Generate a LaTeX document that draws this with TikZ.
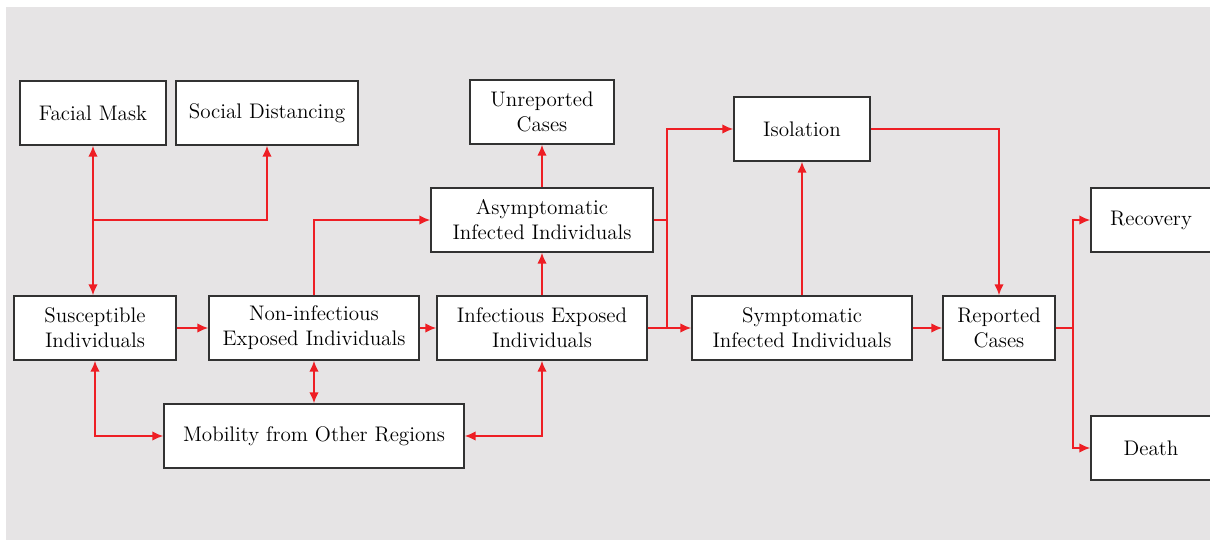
\documentclass[tikz,border=0pt]{standalone}
\usetikzlibrary{arrows.meta}
\definecolor{linkred}{RGB}{238,30,36}
\definecolor{panelgray}{RGB}{230,228,229}
\definecolor{boxline}{RGB}{50,50,50}
\begin{document}
\begin{tikzpicture}[x=0.02cm, y=-0.02cm,
		box/.style={draw=boxline, line width=0.7pt, fill=white, align=center, minimum height=1.28cm, inner sep=2pt, font=\fontsize{12}{14.2}\selectfont},
		line/.style={draw=linkred, line width=1.1pt},
		link/.style={line, -{Latex[length=2.2mm,width=1.9mm]}},
		both/.style={line, {Latex[length=2.2mm,width=1.9mm]}-{Latex[length=2.2mm,width=1.9mm]}}]
		\useasboundingbox (0,0) rectangle (1210,540);
		\fill[panelgray] (6,7) rectangle (1210,540);
		\node[box, minimum width=2.92cm] (Facial mask) at (93,113) {Facial Mask};
		\node[box, minimum width=3.64cm] (Social distancing) at (267,113) {Social Distancing};
		\node[box, minimum width=2.88cm] (Unreported) at (542,112) {Unreported\\Cases};
		\node[box, minimum width=2.72cm] (Isolation) at (802,129) {Isolation};
		\node[box, minimum width=4.44cm] (Asymptomatic) at (542,220) {Asymptomatic\\Infected Individuals};
		\node[box, minimum width=2.40cm] (Recovery) at (1151,220) {Recovery};
		\node[box, minimum width=3.24cm] (Susceptible) at (95,328) {Susceptible\\Individuals};
		\node[box, minimum width=4.20cm] (Non-infectious) at (314,328) {Non-infectious\\Exposed Individuals};
		\node[box, minimum width=4.20cm] (Infectious) at (542,328) {Infectious Exposed\\Individuals};
		\node[box, minimum width=4.40cm] (Symptomatic) at (802,328) {Symptomatic\\Infected Individuals};
		\node[box, minimum width=2.24cm] (Reported) at (999,328) {Reported\\Cases};
		\node[box, minimum width=6.00cm] (Mobility) at (314,436) {Mobility from Other Regions};
		\node[box, minimum width=2.40cm] (Death) at (1151,448) {Death};
		\coordinate (mask split) at (93,220);
		\coordinate (sym split) at (667,328);
		\coordinate (outcome split) at (1073,328);
		% Arrows
		\draw[link] (mask split) -- (Facial mask);
		\draw[link] (mask split) -- (mask split |- Susceptible.north);
		\draw[link] (mask split) -| (Social distancing);
		\draw[link] (Susceptible) -- (Non-infectious);
		\draw[link] (Non-infectious) -- (Infectious);
		\draw[link] (Non-infectious.north) |- (Asymptomatic);
		\draw[link] (Infectious) -- (Asymptomatic);
		\draw[link] (Asymptomatic) -- (Unreported);
		\draw[line] (Infectious) -- (sym split);
		\draw[line] (Asymptomatic) -- (Asymptomatic -| sym split);
		\draw[link] (sym split) -- (Symptomatic);
		\draw[link] (sym split) |- (Isolation);
		\draw[link] (Symptomatic) -- (Isolation);
		\draw[link] (Isolation) -| (Reported);
		\draw[link] (Symptomatic) -- (Reported);
		\draw[line] (Reported) -- (outcome split);
		\draw[link] (outcome split) |- (Recovery);
		\draw[link] (outcome split) |- (Death);
		\draw[both] (Susceptible.south) |- (Mobility);
		\draw[both] (Non-infectious) -- (Mobility);
		\draw[both] (Infectious) |- (Mobility);
	\end{tikzpicture}
\end{document}
